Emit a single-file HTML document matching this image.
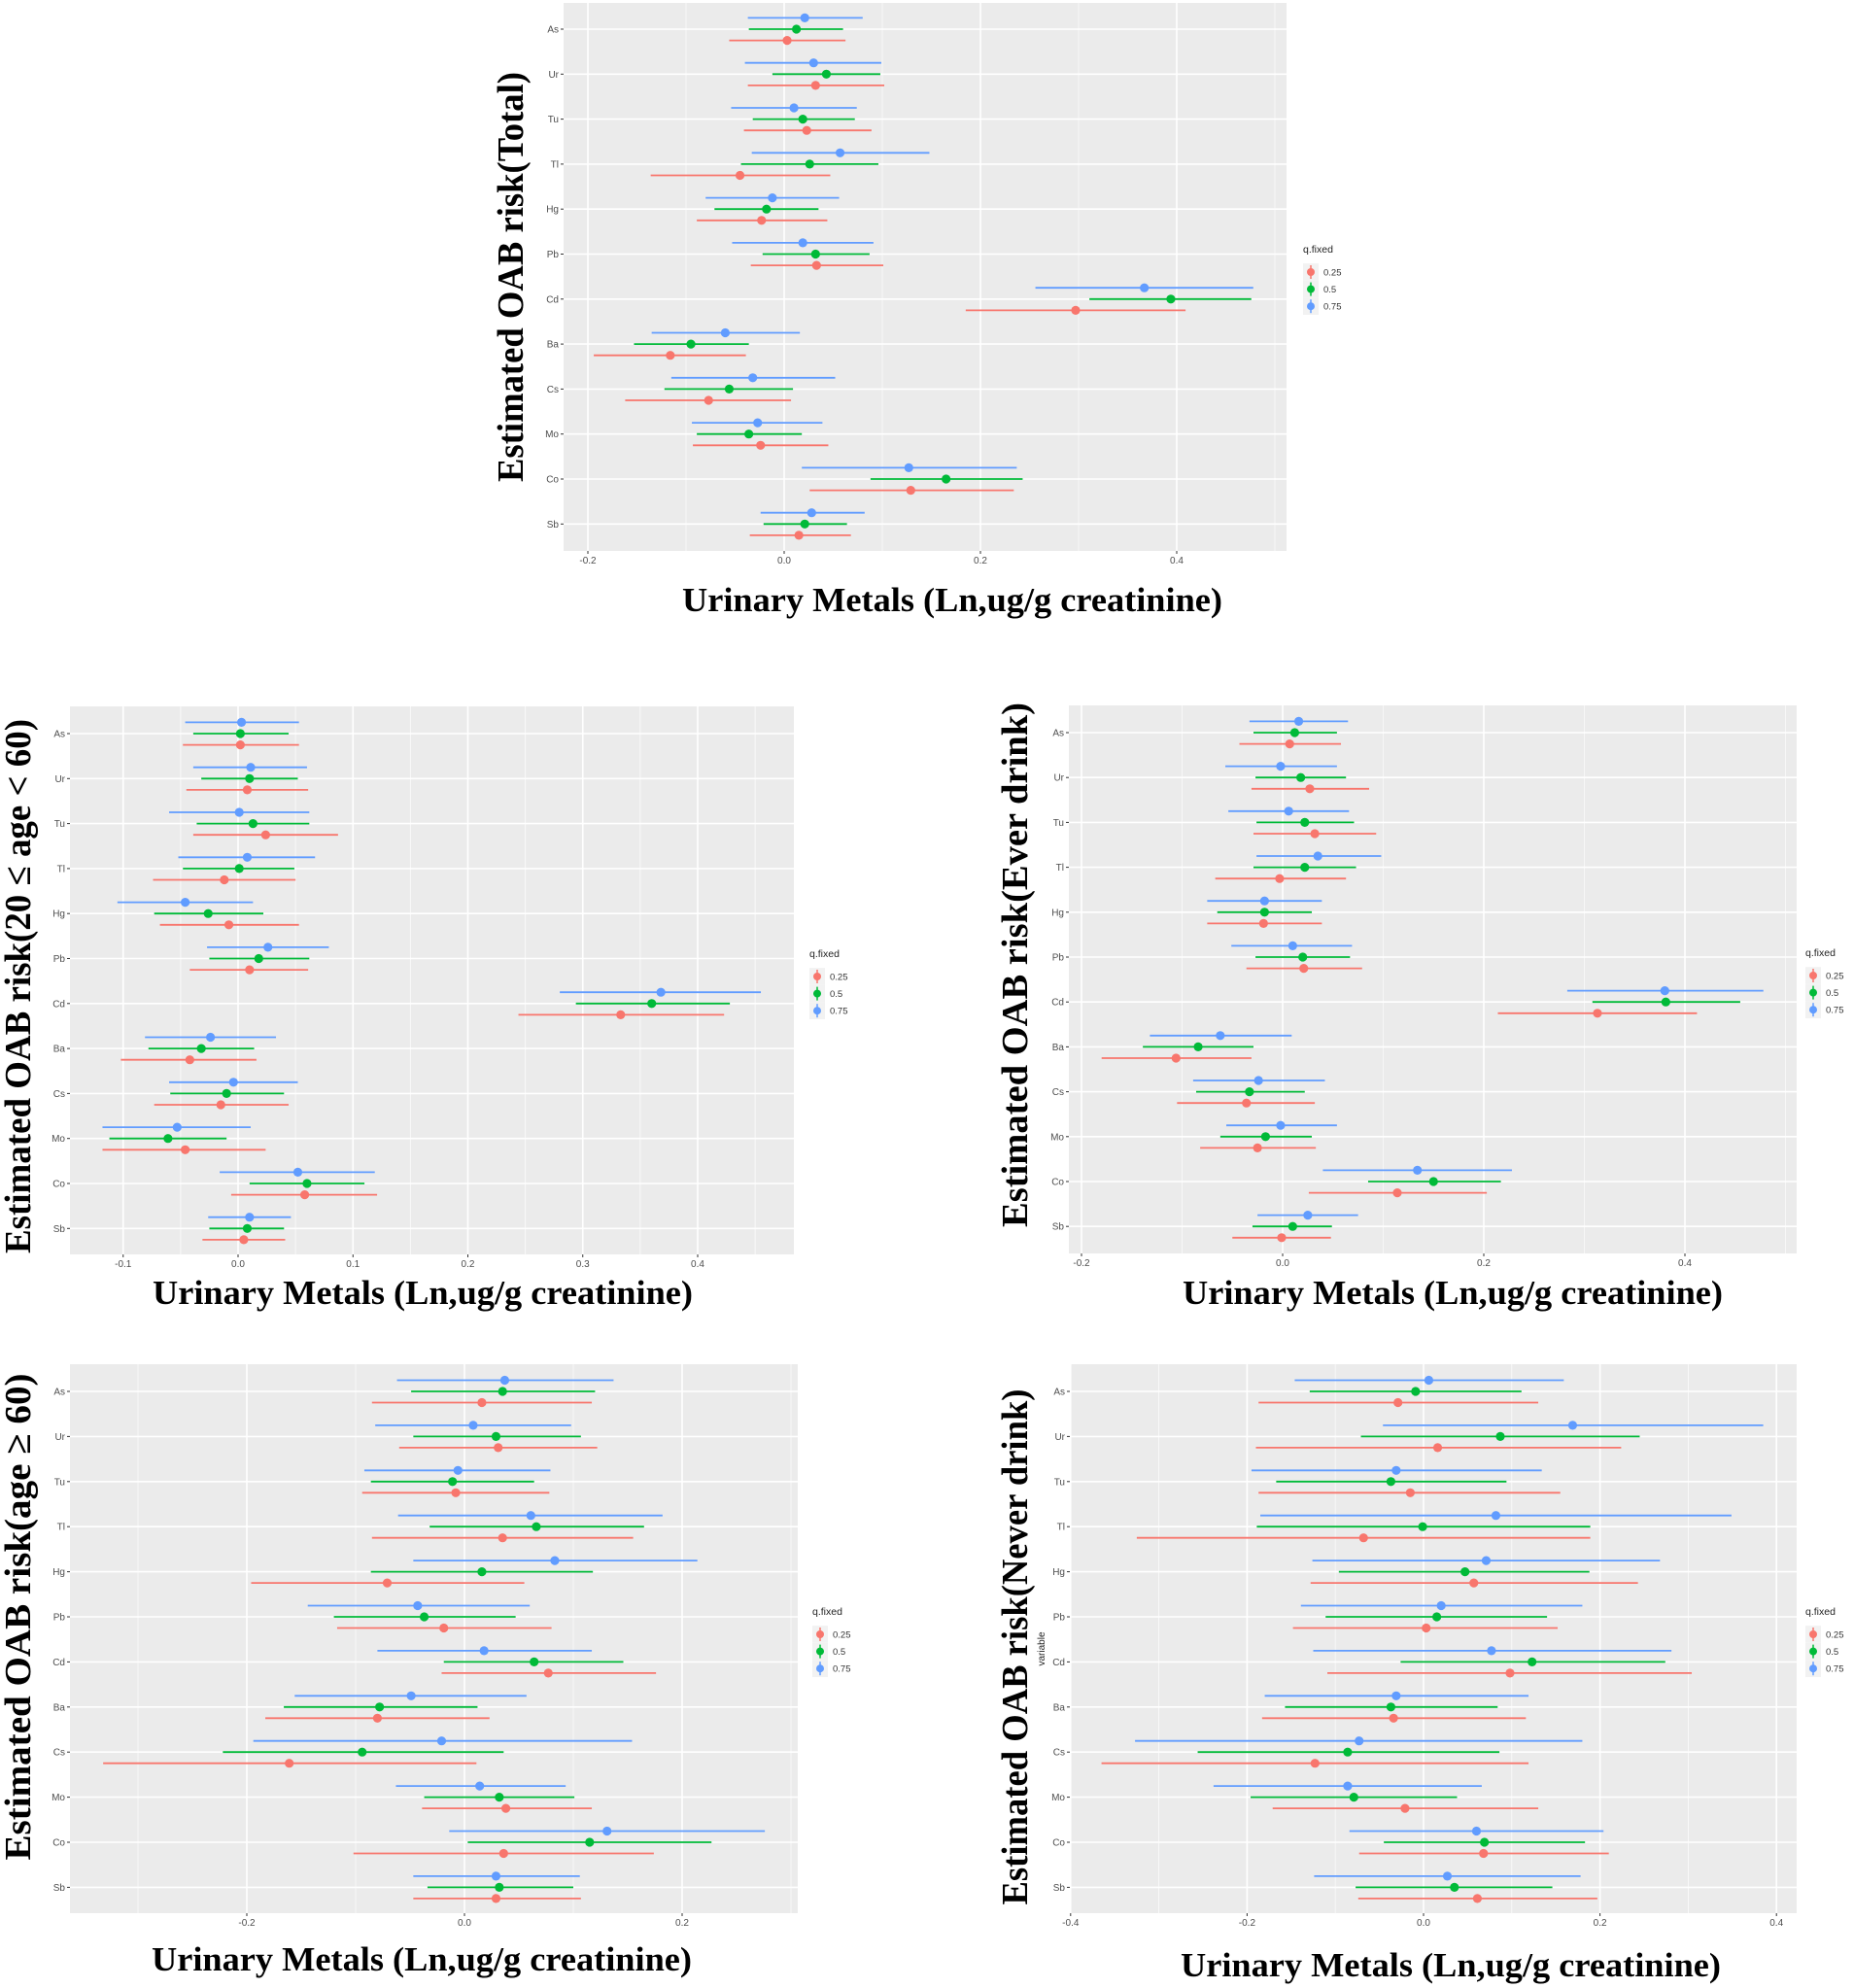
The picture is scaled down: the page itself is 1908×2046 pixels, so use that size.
<!DOCTYPE html>
<html><head><meta charset="utf-8">
<style>
html,body{margin:0;padding:0;background:#fff;}
svg{display:block;}
</style></head>
<body>
<svg id="fig" width="1908" height="2046" viewBox="0 0 1908 2046" xmlns="http://www.w3.org/2000/svg"></svg>
<script>
const categories = ["As","Ur","Tu","Tl","Hg","Pb","Cd","Ba","Cs","Mo","Co","Sb"];
const quantiles = ["0.25","0.5","0.75"];
// [estimate, lower, upper]
const total_q25 = [[.003,-.056,.0625],[.032,-.037,.102],[.023,-.041,.089],[-.045,-.136,.047],[-.023,-.089,.044],[.033,-.034,.101],[.297,.185,.409],[-.116,-.194,-.039],[-.077,-.162,.007],[-.024,-.093,.045],[.129,.026,.234],[.015,-.035,.068]];
const total_q50 = [[.0125,-.036,.060],[.043,-.012,.098],[.019,-.032,.072],[.026,-.044,.096],[-.018,-.071,.035],[.032,-.022,.087],[.394,.311,.476],[-.095,-.153,-.036],[-.056,-.122,.009],[-.036,-.089,.018],[.165,.088,.243],[.021,-.021,.064]];
const total_q75 = [[.021,-.037,.080],[.030,-.040,.099],[.010,-.054,.074],[.057,-.033,.148],[-.012,-.080,.056],[.019,-.053,.091],[.367,.256,.478],[-.060,-.135,.016],[-.032,-.115,.052],[-.027,-.094,.039],[.127,.018,.237],[.028,-.024,.082]];

const young_q25 = [[.002,-.048,.053],[.008,-.045,.061],[.024,-.039,.087],[-.012,-.074,.050],[-.008,-.068,.053],[.010,-.042,.061],[.333,.244,.423],[-.042,-.102,.016],[-.015,-.073,.044],[-.046,-.118,.024],[.058,-.006,.121],[.005,-.031,.041]];
const young_q50 = [[.002,-.039,.044],[.010,-.032,.052],[.013,-.036,.062],[.001,-.048,.049],[-.026,-.073,.022],[.018,-.025,.062],[.360,.294,.428],[-.032,-.078,.014],[-.010,-.059,.040],[-.061,-.112,-.010],[.060,.010,.110],[.008,-.025,.040]];
const young_q75 = [[.003,-.046,.053],[.011,-.039,.060],[.001,-.060,.062],[.008,-.052,.067],[-.046,-.105,.013],[.026,-.027,.079],[.368,.280,.455],[-.024,-.081,.033],[-.004,-.060,.052],[-.053,-.118,.011],[.052,-.016,.119],[.010,-.026,.046]];

const ever_q25 = [[.007,-.043,.058],[.027,-.031,.086],[.032,-.029,.093],[-.003,-.067,.063],[-.019,-.075,.039],[.021,-.036,.079],[.313,.214,.412],[-.106,-.180,-.031],[-.036,-.105,.032],[-.025,-.082,.033],[.114,.026,.203],[-.001,-.050,.048]];
const ever_q50 = [[.012,-.029,.054],[.018,-.027,.063],[.022,-.026,.071],[.022,-.029,.073],[-.018,-.065,.029],[.020,-.027,.067],[.381,.308,.455],[-.084,-.139,-.029],[-.033,-.086,.022],[-.017,-.062,.029],[.150,.085,.217],[.010,-.030,.049]];
const ever_q75 = [[.016,-.033,.065],[-.002,-.057,.054],[.006,-.054,.066],[.035,-.026,.098],[-.018,-.075,.039],[.010,-.051,.069],[.380,.283,.478],[-.062,-.132,.009],[-.024,-.089,.042],[-.002,-.056,.054],[.134,.040,.228],[.025,-.025,.075]];

const old_q25 = [[.016,-.085,.117],[.031,-.060,.122],[-.008,-.094,.078],[.035,-.085,.155],[-.071,-.196,.055],[-.019,-.117,.080],[.077,-.021,.176],[-.080,-.183,.023],[-.161,-.332,.011],[.038,-.039,.117],[.036,-.102,.174],[.029,-.047,.107]];
const old_q50 = [[.035,-.049,.120],[.029,-.047,.107],[-.011,-.086,.064],[.066,-.032,.165],[.016,-.086,.118],[-.037,-.120,.047],[.064,-.019,.146],[-.078,-.166,.012],[-.094,-.222,.036],[.032,-.037,.101],[.115,.003,.227],[.032,-.034,.100]];
const old_q75 = [[.037,-.062,.137],[.008,-.082,.098],[-.006,-.092,.079],[.061,-.061,.182],[.083,-.047,.214],[-.043,-.144,.060],[.018,-.080,.117],[-.049,-.156,.057],[-.021,-.194,.154],[.014,-.063,.093],[.131,-.014,.276],[.029,-.047,.106]];

const never_q25 = [[-.029,-.187,.130],[.016,-.190,.224],[-.015,-.187,.155],[-.068,-.325,.189],[.057,-.128,.243],[.003,-.148,.152],[.098,-.109,.304],[-.034,-.183,.116],[-.123,-.365,.119],[-.021,-.171,.130],[.068,-.073,.210],[.061,-.074,.197]];
const never_q50 = [[-.009,-.129,.111],[.087,-.071,.245],[-.037,-.167,.094],[-.001,-.189,.189],[.047,-.096,.188],[.015,-.111,.140],[.123,-.026,.274],[-.037,-.157,.084],[-.086,-.256,.086],[-.079,-.196,.038],[.069,-.045,.183],[.035,-.077,.146]];
const never_q75 = [[.006,-.146,.159],[.169,-.046,.385],[-.031,-.195,.134],[.082,-.185,.349],[.071,-.126,.268],[.020,-.139,.180],[.077,-.125,.281],[-.031,-.180,.119],[-.073,-.327,.180],[-.086,-.238,.066],[.060,-.084,.204],[.027,-.124,.178]];

const total_ticks = ["-0.2","0.0","0.2","0.4"];
const young_ticks = ["-0.1","0.0","0.1","0.2","0.3","0.4"];
const ever_ticks = ["-0.2","0.0","0.2","0.4"];
const old_ticks = ["-0.2","0.0","0.2"];
const never_ticks = ["-0.4","-0.2","0.0","0.2","0.4"];

const COLORS = ["#F8766D","#00BA38","#619CFF"];
const NS = "http://www.w3.org/2000/svg";
const svg = document.getElementById("fig");

function mk(tag, attrs, parent){
  const e = document.createElementNS(NS, tag);
  for (const k in attrs) e.setAttribute(k, attrs[k]);
  (parent||svg).appendChild(e);
  return e;
}

function panel(cfg){
  const g = mk("g", {});
  
  
  const xs = v => cfg.x0 + v*cfg.scale;
  const ys = i => cfg.y0 + i*cfg.step;
  const bg = mk("rect", {x:cfg.left, y:cfg.top, width:cfg.right-cfg.left, height:cfg.bottom-cfg.top, fill:"#EBEBEB"}, g);
  
  
  const tv = cfg.ticks.map(Number);
  const d = tv[1]-tv[0];
  // minor grid
  for (let v = tv[0]-d/2; v <= tv[tv.length-1]+d; v += d){
    const x = xs(v);
    if (x <= cfg.left || x >= cfg.right) continue;
    const l = mk("line", {x1:x, x2:x, y1:cfg.top, y2:cfg.bottom, stroke:"#fff", "stroke-width":0.8, opacity:0.8}, g);
    
    
  }
  cfg.ticks.forEach(t => {
    const x = xs(Number(t));
    const l = mk("line", {x1:x, x2:x, y1:cfg.top, y2:cfg.bottom, stroke:"#fff", "stroke-width":1.6}, g);
    
    
    const tk = mk("line", {x1:x, x2:x, y1:cfg.bottom, y2:cfg.bottom+3, stroke:"#333", "stroke-width":1}, g);
    
    
    const tx = mk("text", {x:x, y:cfg.bottom+13, "text-anchor":"middle", "font-family":"Liberation Sans, sans-serif", "font-size":10, fill:"#4D4D4D"}, g);
    tx.textContent = t;
    
    
  });
  categories.forEach((c, i) => {
    const y = ys(i);
    const l = mk("line", {x1:cfg.left, x2:cfg.right, y1:y, y2:y, stroke:"#fff", "stroke-width":1.6}, g);
    
    
    const tk = mk("line", {x1:cfg.left-3, x2:cfg.left, y1:y, y2:y, stroke:"#333", "stroke-width":1}, g);
    
    
    const tx = mk("text", {x:cfg.left-5, y:y+3.5, "text-anchor":"end", "font-family":"Liberation Sans, sans-serif", "font-size":10, fill:"#4D4D4D"}, g);
    tx.textContent = c;
    
    
  });
  cfg.series.forEach((ser, q) => {
    const off = (1-q)*cfg.dodge;
    ser.forEach((d, i) => {
      const y = ys(i)+off;
      const l = mk("line", {x1:xs(d[1]), x2:xs(d[2]), y1:y, y2:y, stroke:COLORS[q], "stroke-width":1.8}, g);
      
      
      const p = mk("circle", {cx:xs(d[0]), cy:y, r:4.6, fill:COLORS[q]}, g);
      
      
    });
  });
  // legend
  const lg = mk("g", {}, g);
  
  
  const lt = mk("text", {x:cfg.legX, y:cfg.legY, "font-family":"Liberation Sans, sans-serif", "font-size":10.5, fill:"#222"}, lg);
  lt.textContent = "q.fixed";
  
  
  quantiles.forEach((q, k) => {
    const cy = cfg.legY + 20 + k*17.6;
    const kb = mk("rect", {x:cfg.legX, y:cy-8.8, width:16, height:17.6, fill:"#F2F2F2"}, lg);
    
    
    const kl = mk("line", {x1:cfg.legX+8, x2:cfg.legX+8, y1:cy-7, y2:cy+7, stroke:COLORS[k], "stroke-width":1.5}, lg);
    
    
    const kc = mk("circle", {cx:cfg.legX+8, cy:cy, r:4, fill:COLORS[k]}, lg);
    
    
    const kt = mk("text", {x:cfg.legX+21, y:cy+3.5, "font-family":"Liberation Sans, sans-serif", "font-size":9.5, fill:"#333"}, lg);
    kt.textContent = q;
    
    
  });
  const xt = mk("text", {x:cfg.xtX, y:cfg.xtY, "text-anchor":"middle", "font-family":"Liberation Serif, serif", "font-weight":"bold", "font-size":35, textLength:556, lengthAdjust:"spacingAndGlyphs", fill:"#000"}, g);
  xt.textContent = "Urinary Metals (Ln,ug/g creatinine)";
  
  
  const yt = mk("text", {x:0, y:0, "text-anchor":"middle", "font-family":"Liberation Serif, DejaVu Serif, serif", "font-weight":"bold", "font-size":38, textLength:cfg.ytLen, lengthAdjust:"spacingAndGlyphs", fill:"#000", transform:"translate("+cfg.ytX+","+cfg.ytY+") rotate(-90)"}, g);
  yt.textContent = cfg.ytitle;
  
  
  if (cfg.varLabel){
    const vl = mk("text", {x:0, y:0, "text-anchor":"middle", "font-family":"Liberation Sans, sans-serif", "font-size":10, fill:"#222", transform:"translate(1075,1697) rotate(-90)"}, g);
    vl.textContent = "variable";
    
    
  }
}

panel({name:"panel-total", left:580, right:1324, top:3, bottom:567, x0:807, scale:1010, y0:30, step:46.3, dodge:11.6,
  ticks:total_ticks, series:[total_q25,total_q50,total_q75], legX:1341, legY:260,
  xtX:980, xtY:629, ytX:538, ytY:285, ytLen:422, ytitle:"Estimated OAB risk(Total)"});
panel({name:"panel-age-20-60", left:72, right:817, top:727, bottom:1291, x0:245, scale:1182.5, y0:755, step:46.3, dodge:11.6,
  ticks:young_ticks, series:[young_q25,young_q50,young_q75], legX:833, legY:985,
  xtX:435, xtY:1342, ytX:31, ytY:1015, ytLen:550, ytitle:"Estimated OAB risk(20 \u2264 age < 60)"});
panel({name:"panel-ever-drink", left:1100, right:1849, top:726, bottom:1290, x0:1320, scale:1035, y0:754, step:46.2, dodge:11.6,
  ticks:ever_ticks, series:[ever_q25,ever_q50,ever_q75], legX:1858, legY:984,
  xtX:1495, xtY:1342, ytX:1057, ytY:993, ytLen:540, ytitle:"Estimated OAB risk(Ever drink)"});
panel({name:"panel-age-60-plus", left:72, right:821, top:1404, bottom:1969, x0:478, scale:1120, y0:1432, step:46.4, dodge:11.5,
  ticks:old_ticks, series:[old_q25,old_q50,old_q75], legX:836, legY:1662,
  xtX:434, xtY:2028, ytX:31, ytY:1664, ytLen:501, ytitle:"Estimated OAB risk(age \u2265 60)"});
panel({name:"panel-never-drink", left:1101, right:1849, top:1404, bottom:1969, x0:1465, scale:908, y0:1432, step:46.4, dodge:11.5,
  ticks:never_ticks, series:[never_q25,never_q50,never_q75], legX:1858, legY:1662,
  xtX:1493, xtY:2034, ytX:1057, ytY:1695, ytLen:531, ytitle:"Estimated OAB risk(Never drink)", varLabel:true});
</script>
</body></html>
